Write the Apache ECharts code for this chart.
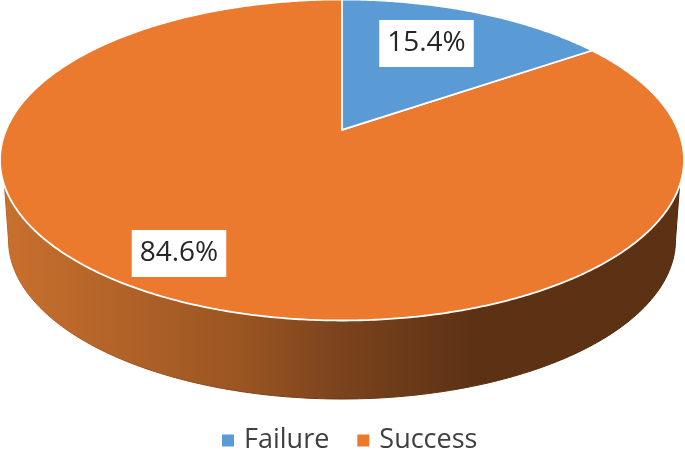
<!DOCTYPE html>
<html>
<head>
<meta charset="utf-8">
<style>html,body{margin:0;padding:0;background:#fff}#c{width:685px;height:450px}</style>
<script src="https://cdn.jsdelivr.net/npm/echarts@6/dist/echarts.min.js"></script>
</head>
<body>
<div id="c"></div>
<script>
var categories = ['Failure', 'Success'];
var values = [15.4, 84.6];
var colors = ['#5B9BD5', '#EB7A2F'];

// Perspective ellipse layout of the tilted disc
var TOP = { cx: 342, cy: 160, rx: 342, ry: 160.5, tilt: -0.1875 };
var BASE = { cx: 342, cy: 240, rx: 333.5, ry: 159 };
var LABEL_POS = [[426.5, 43.5], [179, 253.5]];

function project(deg) {
  var t = deg * Math.PI / 180, x = Math.sin(t), v = -Math.cos(t), a = TOP.tilt;
  var d = 1 + a * v;
  return [TOP.cx + TOP.rx * x * Math.sqrt(1 - a * a) / d, TOP.cy + TOP.ry * (v + a) / d];
}
function ellipsePt(E, deg) {
  var t = deg * Math.PI / 180;
  return [E.cx + E.rx * Math.cos(t), E.cy + E.ry * Math.sin(t)];
}
function slicePoints(startPct, pct) {
  var pts = [[TOP.cx, TOP.cy + TOP.ry * TOP.tilt]];
  var a0 = startPct * 3.6, a1 = (startPct + pct) * 3.6;
  for (var a = a0; a < a1; a += 0.5) pts.push(project(a));
  pts.push(project(a1));
  return pts;
}
function wallPoints() {
  var pts = [], a;
  var leftTop = [TOP.cx - 337.5, 186], rightTop = [TOP.cx + 337.5, 186];
  pts.push(rightTop);
  for (a = 0; a <= 180; a += 1) pts.push(ellipsePt(BASE, a));
  pts.push(leftTop);
  pts.push([TOP.cx, 200]);
  return pts;
}
var wallGradient = new echarts.graphic.LinearGradient(5, 0, 680, 0, [
  { offset: 0, color: '#C8702E' },
  { offset: 0.35, color: '#9A5521' },
  { offset: 0.5, color: '#7A431D' },
  { offset: 0.7, color: '#5C3114' },
  { offset: 1, color: '#5C3114' }
], true);
var wallEdge = new echarts.graphic.LinearGradient(5, 0, 680, 0, [
  { offset: 0, color: '#B8642A' },
  { offset: 0.5, color: '#6A3414' },
  { offset: 1, color: '#4A240C' }
], true);

function makeSeries(i) {
  var start = 0;
  for (var k = 0; k < i; k++) start += values[k];
  return {
    type: 'custom',
    name: categories[i],
    coordinateSystem: 'none',
    z: i === 0 ? 3 : 2,
    silent: true,
    itemStyle: { color: colors[i] },
    data: [[values[i]]],
    renderItem: function (params, api) {
      var val = api.value(0);
      var children = [];
      if (i === 1) {
        children.push({
          type: 'polygon', shape: { points: wallPoints() },
          style: { fill: wallGradient, stroke: wallEdge, lineWidth: 1 }
        });
      }
      children.push({
        type: 'polygon', shape: { points: slicePoints(start, val) },
        style: { fill: colors[i], stroke: '#fff', lineWidth: 1.8, lineJoin: 'round' }
      });
      children.push({
        type: 'text', x: LABEL_POS[i][0], y: LABEL_POS[i][1], z2: 10,
        style: {
          text: val.toFixed(1) + '%', fill: '#262626',
          font: '28px "Open Sans"', align: 'center', verticalAlign: 'middle',
          backgroundColor: '#fff', padding: [13, 8, 6, 8]
        }
      });
      return { type: 'group', children: children };
    }
  };
}

var chart = echarts.init(document.getElementById('c'), null, { renderer: 'canvas' });
chart.setOption({
  animation: false,
  backgroundColor: '#fff',
  legend: {
    data: categories, icon: 'rect', itemWidth: 12, itemHeight: 12, itemGap: 28,
    left: 222, top: 427, padding: 0, selectedMode: false,
    textStyle: { fontFamily: 'Open Sans', fontSize: 27, color: '#404040', padding: [0, 0, 0, 5] }
  },
  series: categories.map(function (c, i) { return makeSeries(i); })
});
</script>
</body>
</html>
